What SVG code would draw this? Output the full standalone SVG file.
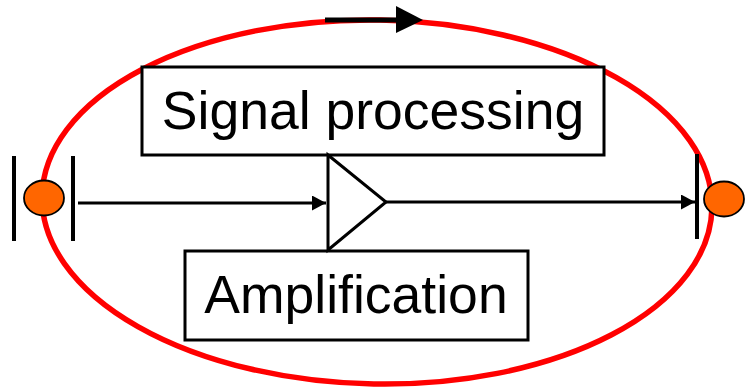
<svg xmlns="http://www.w3.org/2000/svg" width="752" height="390" viewBox="0 0 752 390">
  <style>
    .box { fill: #ffffff; stroke: #000000; stroke-width: 3; }
    .label { font-family: "Liberation Sans", Arial, sans-serif; font-size: 53.5px; fill: #000000; text-anchor: middle; }
    .wire { fill: none; stroke: #000000; stroke-width: 2.8; }
    .bar { fill: none; stroke: #000000; stroke-width: 4; }
    .port { fill: #ff6600; stroke: #000000; stroke-width: 1.8; }
  </style>
  <defs>
    <marker id="head" markerWidth="14" markerHeight="15" refX="14" refY="7.5" orient="auto" markerUnits="userSpaceOnUse">
      <path d="M0,0 L14,7.5 L0,15 Z" fill="#000000"/>
    </marker>
  </defs>

  <rect width="752" height="390" fill="#ffffff"/>

  <!-- feedback loop -->
  <g id="loop">
    <ellipse cx="377" cy="202" rx="335" ry="182" transform="rotate(1 377 202)" fill="none" stroke="#ff0000" stroke-width="5.5"/>
    <line x1="325" y1="20" x2="398" y2="20" stroke="#000000" stroke-width="5"/>
    <path d="M396,6 L423,20 L396,33 Z" fill="#000000"/>
  </g>

  <g id="signal-processing">
    <rect class="box" x="142" y="67" width="462" height="88"/>
    <text class="label" x="373" y="129">Signal processing</text>
  </g>

  <g id="amplification">
    <rect class="box" x="185" y="251" width="343" height="89"/>
    <text class="label" x="356" y="313">Amplification</text>
  </g>

  <g id="amplifier">
    <path d="M328,155 L328,250 L386,202 Z" fill="#ffffff" stroke="#000000" stroke-width="3" stroke-linejoin="miter"/>
  </g>

  <g id="input">
    <line class="bar" x1="14" y1="156" x2="14" y2="241"/>
    <line class="bar" x1="73" y1="156" x2="73" y2="241"/>
    <ellipse class="port" cx="44" cy="198" rx="20" ry="17.5"/>
  </g>

  <g id="output">
    <line class="bar" x1="697" y1="154" x2="697" y2="239"/>
    <ellipse class="port" cx="724" cy="199" rx="20" ry="17.5"/>
  </g>

  <g id="connectors">
    <line class="wire" x1="78" y1="203" x2="326" y2="203" marker-end="url(#head)"/>
    <line class="wire" x1="386" y1="202" x2="695" y2="202" marker-end="url(#head)"/>
  </g>
</svg>
